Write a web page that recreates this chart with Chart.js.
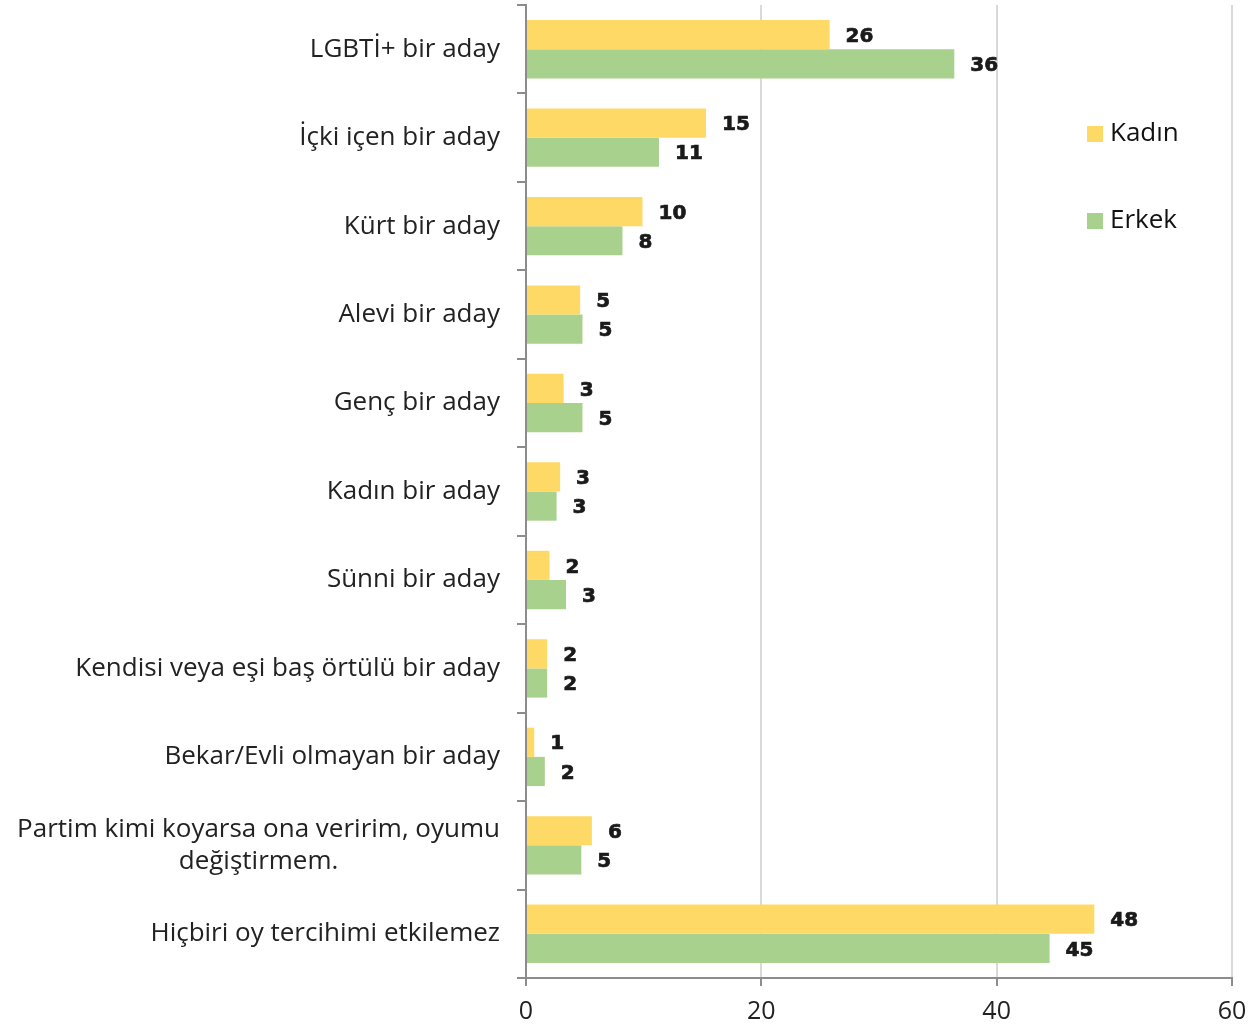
<!DOCTYPE html>
<html>
<head>
<meta charset="utf-8">
<script src="https://cdn.jsdelivr.net/npm/chart.js@4.4.0/dist/chart.umd.min.js"></script>
<style>
    html, body { margin: 0; padding: 0; background: #fff; }
    #wrap { width: 1248px; height: 1026px; position: relative; }
</style>
</head>
<body>
<div id="wrap"><canvas id="chart"></canvas></div>
<script>
const CATEGORIES = [
    "LGBTİ+ bir aday",
    "İçki içen bir aday",
    "Kürt bir aday",
    "Alevi bir aday",
    "Genç bir aday",
    "Kadın bir aday",
    "Sünni bir aday",
    "Kendisi veya eşi baş örtülü bir aday",
    "Bekar/Evli olmayan bir aday",
    ["Partim kimi koyarsa ona veririm, oyumu", "değiştirmem."],
    "Hiçbiri oy tercihimi etkilemez",
];

const KADIN = [25.8, 15.3, 9.9, 4.6, 3.2, 2.9, 2.0, 1.8, 0.7, 5.6, 48.3];
const ERKEK = [36.4, 11.3, 8.2, 4.8, 4.8, 2.6, 3.4, 1.8, 1.6, 4.7, 44.5];

const X_TICKS = [0, 20, 40, 60];

const LABEL_FONT = "26px 'Open Sans', sans-serif";
const VALUE_FONT = "bold 20px 'DejaVu Sans', sans-serif";
const LEGEND_FONT = "26px 'Open Sans', sans-serif";

// category labels drawn at the scale's tick positions, each line centred on the first
const categoryLabels = {
    id: "categoryLabels",
    afterDraw(chart) {
        const ctx = chart.ctx;
        const yScale = chart.scales.y;
        const right = yScale.right - 26;
        ctx.save();
        ctx.font = LABEL_FONT;
        ctx.fillStyle = "#222";
        ctx.textBaseline = "middle";
        ctx.textAlign = "center";
        CATEGORIES.forEach((label, i) => {
            const y = yScale.getPixelForTick(i);
            const lines = Array.isArray(label) ? label : [label];
            const lineHeight = 32;
            const widest = Math.max(...lines.map(l => ctx.measureText(l).width));
            const center = right - widest / 2;
            lines.forEach((line, j) => {
                const ly = y + (j - (lines.length - 1) / 2) * lineHeight;
                ctx.fillText(line, center, ly);
            });
        });
        ctx.restore();
    },
};

// rounded value at the end of each bar
const valueLabels = {
    id: "valueLabels",
    afterDatasetsDraw(chart) {
        const ctx = chart.ctx;
        ctx.save();
        ctx.font = VALUE_FONT;
        ctx.fillStyle = "#1a1a1a";
        ctx.strokeStyle = "#1a1a1a";
        ctx.lineWidth = 0.7;
        ctx.textAlign = "left";
        ctx.textBaseline = "middle";
        chart.data.datasets.forEach((dataset, d) => {
            chart.getDatasetMeta(d).data.forEach((bar, i) => {
                const txt = String(Math.round(dataset.data[i]));
                ctx.fillText(txt, bar.x + 16, bar.y + 2);
                ctx.strokeText(txt, bar.x + 16, bar.y + 2);
            });
        });
        ctx.restore();
    },
};

// legend sits inside the plot area on the right
const insideLegend = {
    id: "insideLegend",
    afterDraw(chart) {
        const ctx = chart.ctx;
        const spots = [126, 213];
        ctx.save();
        ctx.font = LEGEND_FONT;
        ctx.textAlign = "left";
        ctx.textBaseline = "middle";
        chart.data.datasets.forEach((dataset, d) => {
            ctx.fillStyle = dataset.backgroundColor;
            ctx.fillRect(1087, spots[d], 16, 16);
            ctx.fillStyle = "#111";
            ctx.fillText(dataset.label, 1110, spots[d] + 8);
        });
        ctx.restore();
    },
};

const chart = new Chart(document.getElementById("chart"), {
    type: "bar",
    data: {
        labels: CATEGORIES,
        datasets: [
            { label: "Kadın", data: KADIN, backgroundColor: "#FFD966" },
            { label: "Erkek", data: ERKEK, backgroundColor: "#A9D18E" },
        ],
    },
    options: {
        indexAxis: "y",
        responsive: true,
        maintainAspectRatio: false,
        animation: false,
        categoryPercentage: 0.66,
        barPercentage: 1.0,
        layout: { padding: { top: 5, right: 0, left: 0, bottom: 0 } },
        plugins: {
            legend: { display: false },
            tooltip: { enabled: false },
        },
        scales: {
            x: {
                min: 0,
                max: 60,
                afterBuildTicks: (axis) => {
                    axis.ticks = X_TICKS.map(v => ({ value: v }));
                },
                grid: {
                    color: "#d9d9d9",
                    lineWidth: 2,
                    tickColor: "#8c8c8c",
                    tickLength: 8,
                },
                border: { color: "#8c8c8c", width: 2 },
                ticks: {
                    padding: 11,
                    color: "#222",
                    font: { family: "'Open Sans', sans-serif", size: 25 },
                },
                afterFit: (axis) => {
                    axis.height = 48;
                    axis.paddingRight = 16;
                },
            },
            y: {
                offset: true,
                grid: {
                    offset: true,
                    drawOnChartArea: false,
                    color: "#8c8c8c",
                    lineWidth: 2,
                    tickLength: 9,
                },
                border: { color: "#8c8c8c", width: 2 },
                ticks: { display: false },
                afterFit: (axis) => { axis.width = 526; },
            },
        },
    },
    plugins: [categoryLabels, valueLabels, insideLegend],
});
</script>
</body>
</html>
